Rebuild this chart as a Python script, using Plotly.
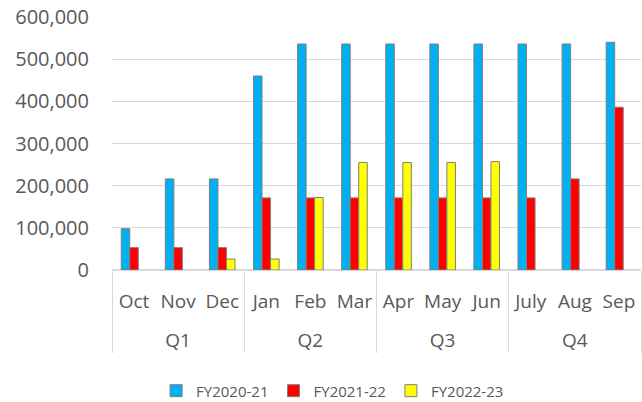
import plotly.graph_objects as go

months = ["Oct", "Nov", "Dec", "Jan", "Feb", "Mar", "Apr", "May", "Jun", "July", "Aug", "Sep"]
quarters = ["Q1", "Q1", "Q1", "Q2", "Q2", "Q2", "Q3", "Q3", "Q3", "Q4", "Q4", "Q4"]
fy2020_21 = [98000, 216000, 216000, 460000, 536000, 536000, 536000, 536000, 536000, 536000, 536000, 540000]
fy2021_22 = [53000, 53000, 53000, 171000, 171000, 171000, 171000, 171000, 171000, 171000, 216000, 386000]
fy2022_23 = [None, None, 26000, 26000, 172000, 255000, 255000, 255000, 257000, None, None, None]
series_names = ["FY2020-21", "FY2021-22", "FY2022-23"]
colors = ["#00B0F0", "#FF0000", "#FFFF00"]

FONT = "Open Sans"
GREY_TXT = "#595959"
GRID = "#D9D9D9"

# outer level labels get a leading blank line to open the gap between levels
quarter_labels = ["<br>" + q for q in quarters]

fig = go.Figure()
for name, vals, col in zip(series_names, [fy2020_21, fy2021_22, fy2022_23], colors):
    fig.add_trace(go.Bar(
        x=[quarter_labels, months], y=vals, name=name,
        marker=dict(color=col, line=dict(color="#7F7F7F", width=1)),
    ))

fig.update_layout(
    width=642, height=402,
    margin=dict(l=112, r=1, t=17, b=132, autoexpand=False),
    paper_bgcolor="white", plot_bgcolor="white",
    barmode="group", bargap=0.42, bargroupgap=0,
    font=dict(family=FONT, color=GREY_TXT),
    showlegend=True,
    legend=dict(orientation="h", x=0.417, xanchor="center", y=-0.478, yanchor="middle",
                font=dict(size=15, color=GREY_TXT, family=FONT),
                itemwidth=30, traceorder="normal"),
)
fig.update_xaxes(
    type="multicategory", tickangle=0, automargin=False,
    tickfont=dict(size=19, color=GREY_TXT, family=FONT),
    showline=True, linecolor=GRID, linewidth=1,
    showdividers=True, dividercolor=GRID, dividerwidth=1,
    showgrid=False, ticks="", ticklabelstandoff=14,
)
fig.update_yaxes(
    range=[0, 600000], dtick=100000, tickformat=",", automargin=False,
    showgrid=True, gridcolor=GRID, gridwidth=1,
    zeroline=True, zerolinecolor=GRID,
    tickfont=dict(size=20, color=GREY_TXT, family=FONT),
    ticklabelstandoff=22,
)

fig.write_html("out.html", config={"displayModeBar": False},
               post_script="document.body.style.margin='0';")
